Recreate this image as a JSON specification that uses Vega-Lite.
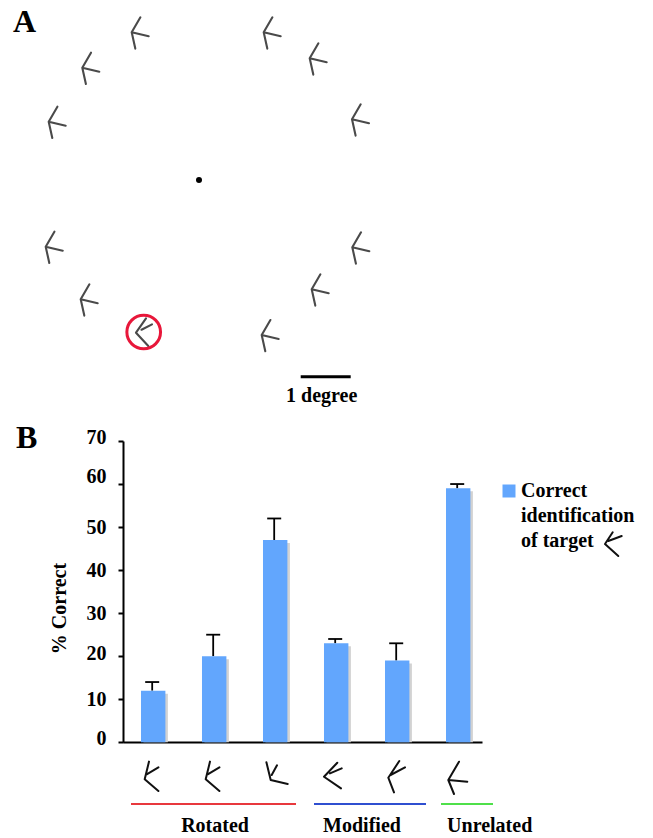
{
"$schema":"https://vega.github.io/schema/vega-lite/v6.json",
"width":653,"height":838,"padding":0,"autosize":{"type":"none"},
"background":"white",
"config":{"view":{"stroke":null}},
"datasets":{
"bars":[
{"stimulus":"Rotated 1","correct":12,"upper":14,"measure":"Correct identification of target"},
{"stimulus":"Rotated 2","correct":20,"upper":25,"measure":"Correct identification of target"},
{"stimulus":"Rotated 3","correct":47,"upper":52,"measure":"Correct identification of target"},
{"stimulus":"Modified 1","correct":23,"upper":24,"measure":"Correct identification of target"},
{"stimulus":"Modified 2","correct":19,"upper":23,"measure":"Correct identification of target"},
{"stimulus":"Unrelated","correct":59,"upper":60,"measure":"Correct identification of target"}],
"stimuli":[
{"dx":-1.346,"dy":2.954,"kind":"distractor"},
{"dx":-2.334,"dy":2.246,"kind":"distractor"},
{"dx":-3.006,"dy":1.166,"kind":"distractor"},
{"dx":1.294,"dy":2.954,"kind":"distractor"},
{"dx":2.214,"dy":2.434,"kind":"distractor"},
{"dx":3.06,"dy":1.214,"kind":"distractor"},
{"dx":-3.066,"dy":-1.334,"kind":"distractor"},
{"dx":-2.366,"dy":-2.386,"kind":"distractor"},
{"dx":1.254,"dy":-3.1,"kind":"distractor"},
{"dx":2.254,"dy":-2.186,"kind":"distractor"},
{"dx":3.066,"dy":-1.346,"kind":"distractor"},
{"dx":-1.26,"dy":-3.054,"kind":"target"}],
"responses":[
{"dx":-1.086,"dy":-11.986,"kind":"rotated a"},
{"dx":0.134,"dy":-11.986,"kind":"rotated a"},
{"dx":1.434,"dy":-12,"kind":"rotated c"},
{"dx":2.5,"dy":-11.934,"kind":"modified a"},
{"dx":3.786,"dy":-11.954,"kind":"modified b"},
{"dx":4.986,"dy":-12,"kind":"unrelated"},
{"dx":8.12,"dy":-7.28,"kind":"legend"}],
"groups":[
{"group":"Rotated","from":-1.36,"to":1.94,"level":-12.48,"mid":0.32,"base":-13.03},
{"group":"Modified","from":2.3,"to":4.54,"level":-12.48,"mid":3.26,"base":-13.03},
{"group":"Unrelated","from":4.84,"to":5.88,"level":-12.48,"mid":5.814,"base":-13.03}],
"panels":[
{"label":"A","dx":-3.72,"dy":2.96},
{"label":"B","dx":-3.66,"dy":-5.36}]
},
"layer":[
{
"encoding":{
"x":{"field":"dx","type":"quantitative","axis":null,"scale":{"domain":[-3.98,9.08],"nice":false,"zero":false}},
"y":{"field":"dy","type":"quantitative","axis":null,"scale":{"domain":[-13.16,3.6],"nice":false,"zero":false}}
},
"layer":[
{"data":{"name":"stimuli"},
 "mark":{"type":"point","filled":false,"size":4,"stroke":"#4a4a4a","strokeWidth":2.1,"strokeCap":"round","strokeJoin":"round","opacity":1},
 "encoding":{"shape":{"field":"kind","type":"nominal","legend":null,"scale":{"domain":["distractor","target","rotated a","rotated c","modified a","modified b","unrelated","legend"],"range":["M8.7 -15L0 0L3.6 16.3M0 0L17 4","M10 -14.3L0 0L12.3 13.3M16 -8.3L5.5 -3","M4.3 -17.7L0 0L13.7 11.7M13.7 -12L2 -5","M-4.3 -17.7L0 0L17 4M6.3 -14.7L1 -5","M13.3 -14L0 0L17 11.7M17.7 -8.3L6 -3.3","M11 -16.7L0 0L5.7 14.7M16.7 -10.3L2.3 -2.7","M10.7 -18.3L0 0L5.7 14M0 0L19 1.7","M7.7 -11.7L0 0L13.3 12M16.7 -8L3.3 -3"]}}}},
{"data":{"values":[{"dx":-1.106,"dy":-3.04}]},
 "mark":{"type":"point","shape":"circle","filled":false,"size":1134,"stroke":"#e8173a","strokeWidth":3,"opacity":1}},
{"data":{"values":[{"dx":0,"dy":0}]},
 "mark":{"type":"point","shape":"circle","filled":true,"size":36,"color":"black","opacity":1}},
{"data":{"values":[{"dx":2.034,"dx2":3.034,"dy":-3.934}]},
 "mark":{"type":"rule","stroke":"black","strokeWidth":3},
 "encoding":{"x2":{"field":"dx2"}}},
{"data":{"values":[{"dx":2.454,"dy":-4.44,"label":"1 degree"}]},
 "mark":{"type":"text","font":"Liberation Serif","fontWeight":"bold","fontSize":20,"baseline":"alphabetic","align":"center","color":"black"},
 "encoding":{"text":{"field":"label"}}},
{"data":{"name":"panels"},
 "mark":{"type":"text","font":"Liberation Serif","fontWeight":"bold","fontSize":32,"baseline":"alphabetic","align":"left","color":"black"},
 "encoding":{"text":{"field":"label"}}},
{"data":{"name":"responses"},
 "mark":{"type":"point","filled":false,"size":4,"stroke":"#111111","strokeWidth":2,"strokeCap":"round","strokeJoin":"round","opacity":1},
 "encoding":{"shape":{"field":"kind","type":"nominal","legend":null}}},
{"data":{"name":"groups"},
 "mark":{"type":"rule","strokeWidth":2},
 "encoding":{"x":{"field":"from","type":"quantitative"},"x2":{"field":"to"},"y":{"field":"level","type":"quantitative"},
  "color":{"field":"group","type":"nominal","legend":null,"scale":{"domain":["Rotated","Modified","Unrelated"],"range":["#e8383d","#2f4fd0","#4fe04a"]}}}},
{"data":{"name":"groups"},
 "mark":{"type":"text","font":"Liberation Serif","fontWeight":"bold","fontSize":20,"baseline":"alphabetic","align":"center","color":"black"},
 "encoding":{"x":{"field":"mid","type":"quantitative"},"y":{"field":"base","type":"quantitative"},"text":{"field":"group"}}}
]
},
{
"data":{"name":"bars"},
"encoding":{
"x":{"field":"stimulus","type":"nominal","sort":null,"title":null,
 "scale":{"range":[123,482],"paddingInner":0.6,"paddingOuter":0.2425,"align":0.608},
 "axis":{"orient":"bottom","offset":-96,"labels":false,"ticks":false,"title":null,"domainColor":"black","domainWidth":2,"grid":false}},
"y":{"type":"quantitative","title":"% Correct",
 "scale":{"domain":[0,70],"range":[742.3,441],"nice":false},
 "axis":{"orient":"left","offset":-123,"values":[0,10,20,30,40,50,60,70],"grid":false,"domainColor":"black","domainWidth":2,"tickColor":"black","tickWidth":2,"tickSize":5,"labelFont":"Liberation Serif","labelFontWeight":"bold","labelFontSize":20,"labelColor":"black","labelPadding":12,"labelOffset":{"condition":[{"test":"datum.value==60","value":-8},{"test":"datum.value==70","value":-4},{"test":"datum.value==0","value":-4},{"test":"datum.value==20","value":-3}],"value":0},"titleFont":"Liberation Serif","titleFontWeight":"bold","titleFontSize":20,"titleColor":"black","titleX":-64,"titleY":608,"titleAngle":-90,"titleAlign":"center","titleBaseline":"middle"}}
},
"layer":[
{"mark":{"type":"bar","color":"#d2d2d2","xOffset":2.5,"yOffset":3,"y2Offset":0},
 "encoding":{"y":{"field":"correct","type":"quantitative"},"y2":{"datum":0}}},
{"mark":{"type":"rule","stroke":"black","strokeWidth":1.8,"xOffset":-1},
 "encoding":{"y":{"field":"correct","type":"quantitative"},"y2":{"field":"upper"}}},
{"mark":{"type":"tick","orient":"horizontal","color":"black","size":14,"thickness":1.8,"xOffset":-1,"opacity":1},
 "encoding":{"y":{"field":"upper","type":"quantitative"}}},
{"mark":{"type":"bar","opacity":1},
 "encoding":{"y":{"field":"correct","type":"quantitative"},
 "color":{"field":"measure","type":"nominal","title":null,"scale":{"range":["#62a6fd"]},
  "legend":{"orient":"none","legendX":499,"legendY":481,"symbolType":"square","symbolSize":169,"symbolStrokeWidth":0,"labelFont":"Liberation Serif","labelFontWeight":"bold","labelFontSize":20,"labelColor":"black","labelLimit":200,"labelExpr":"['Correct','identification','of target']","labelOffset":2,"encoding":{"labels":{"lineHeight":{"value":25}}}}}}}
]
}
],
"resolve":{"scale":{"x":"independent","y":"independent","shape":"independent","color":"independent"},"axis":{"x":"independent","y":"independent"}}
}
